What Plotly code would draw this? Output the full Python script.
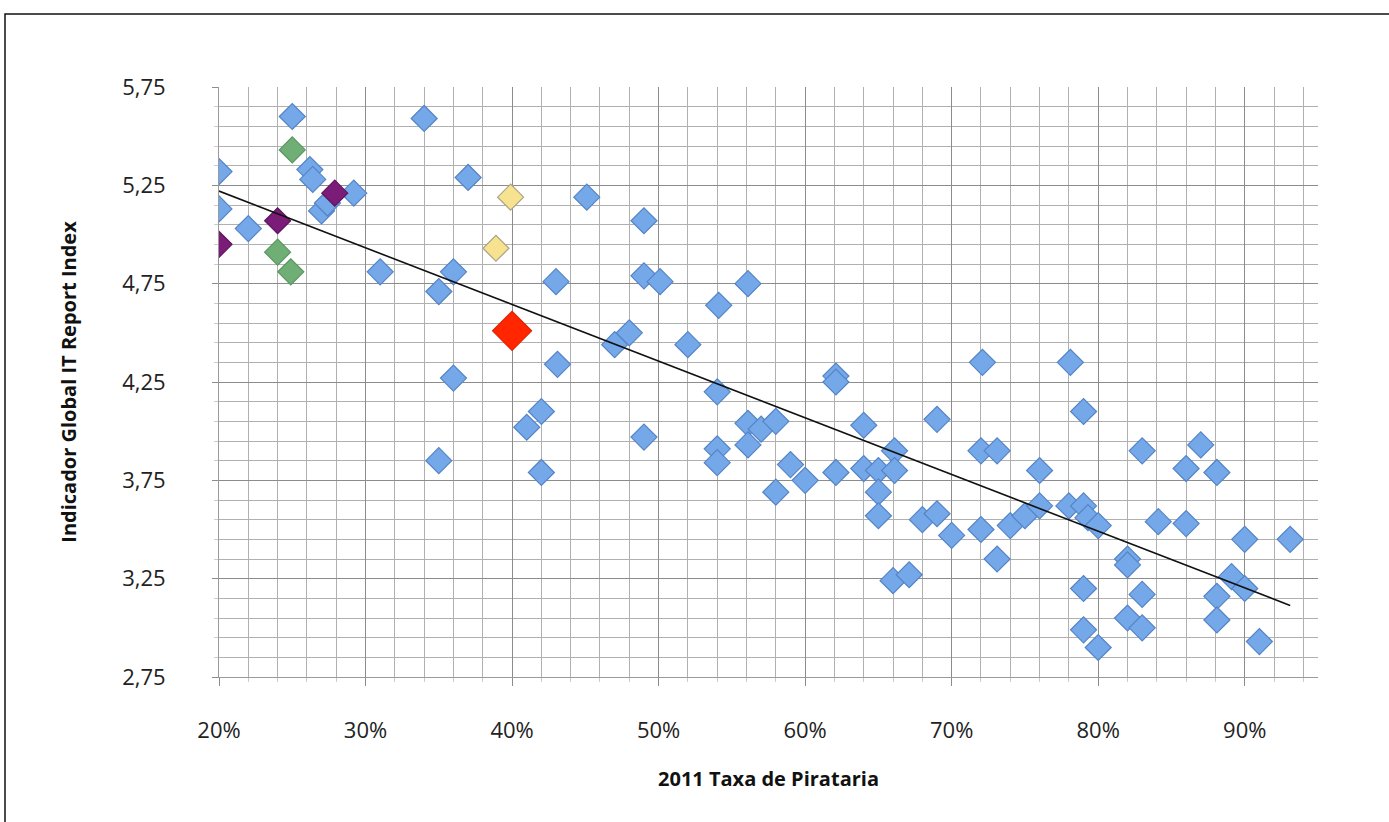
import numpy as np
import plotly.graph_objects as go

# ---- data (x = piracy rate %, y = Global IT Report index) ----
blue_x = [25.0, 34.0, 20.0, 26.2, 26.4, 37.0, 29.2, 45.1, 20.0, 27.0, 27.4, 22.0, 49.0,
          31.0, 36.0, 35.0, 43.0, 49.0, 50.1, 56.1, 54.1, 48.0, 47.0, 52.0, 43.1, 36.0,
          62.1, 62.1, 72.1, 78.1, 54.0, 42.0, 41.0, 35.0, 42.0, 49.0, 54.0, 54.0, 56.1,
          57.0, 58.0, 56.1, 64.0, 69.0, 79.0, 66.1, 59.0, 60.0, 62.1, 64.0, 65.0, 66.1,
          65.0, 58.0, 65.0, 68.0, 69.0, 70.0, 66.0, 67.1, 72.0, 73.1, 76.0, 83.0, 87.0,
          86.0, 88.1, 72.0, 74.0, 75.0, 76.0, 73.1, 78.0, 79.0, 79.3, 80.0, 84.1, 86.0,
          90.0, 93.1, 82.0, 82.0, 79.0, 83.0, 89.1, 90.0, 88.1, 88.1, 82.0, 83.0, 79.0,
          80.0, 91.0]
blue_y = [5.60, 5.59, 5.32, 5.33, 5.28, 5.29, 5.21, 5.19, 5.13, 5.12, 5.16, 5.03, 5.07,
          4.81, 4.81, 4.71, 4.76, 4.79, 4.76, 4.75, 4.64, 4.50, 4.44, 4.44, 4.34, 4.27,
          4.28, 4.25, 4.35, 4.35, 4.20, 4.10, 4.02, 3.85, 3.79, 3.97, 3.91, 3.84, 4.04,
          4.01, 4.05, 3.93, 4.03, 4.06, 4.10, 3.90, 3.83, 3.75, 3.79, 3.81, 3.80, 3.80,
          3.69, 3.69, 3.57, 3.55, 3.58, 3.47, 3.24, 3.27, 3.90, 3.90, 3.80, 3.90, 3.93,
          3.81, 3.79, 3.50, 3.52, 3.57, 3.62, 3.35, 3.62, 3.62, 3.56, 3.52, 3.54, 3.53,
          3.45, 3.45, 3.35, 3.32, 3.20, 3.17, 3.26, 3.20, 3.16, 3.04, 3.05, 3.00, 2.99,
          2.90, 2.93]
green_x = [25.0, 24.0, 24.9]
green_y = [5.43, 4.91, 4.81]
purple_x = [27.9, 24.0, 20.0]
purple_y = [5.21, 5.07, 4.95]
yellow_x = [39.9, 38.9]
yellow_y = [5.19, 4.93]
red_x = [40.0]
red_y = [4.51]

x_title = "2011 Taxa de Pirataria"
y_title = "Indicador Global IT Report Index"

def frac(v):
    return [a / 100.0 for a in v]

fig = go.Figure()

def add(xs, ys, fill, edge, size):
    fig.add_trace(go.Scatter(
        x=frac(xs), y=ys, mode="markers", showlegend=False, hoverinfo="x+y",
        marker=dict(symbol="diamond", size=size, color=fill,
                    line=dict(color=edge, width=1.2))))

add(blue_x, blue_y, "#74a8e8", "#5584c6", 20)
add(green_x, green_y, "#6fae74", "#5a9660", 20)
add(purple_x, purple_y, "#7a1c78", "#5e1460", 20)
add(yellow_x, yellow_y, "#f7e28f", "#a9a487", 20)
add(red_x, red_y, "#ff2600", "#e02000", 30)

# linear trendline through all points
all_x = np.array(frac(blue_x + green_x + purple_x + yellow_x + red_x))
all_y = np.array(blue_y + green_y + purple_y + yellow_y + red_y)
slope, intercept = np.polyfit(all_x, all_y, 1)
tx = np.array([all_x.min(), all_x.max()])
fig.add_trace(go.Scatter(x=tx, y=slope * tx + intercept, mode="lines",
                         line=dict(color="#111111", width=1.6),
                         showlegend=False, hoverinfo="skip"))

L, R, T, B = 219, 71, 87, 145
W, H = 1389, 822
pw, ph = W - L - R, H - T - B

fig.update_layout(
    width=W, height=H,
    margin=dict(l=L, r=R, t=T, b=B),
    paper_bgcolor="white", plot_bgcolor="white",
    separators=",.",
    font=dict(family="Open Sans, Lato, sans-serif", color="#222222"),
    xaxis=dict(
        range=[0.2, 0.95], tick0=0.2, dtick=0.1, tickformat=".0%",
        showgrid=True, gridcolor="#8c8c8c", gridwidth=1,
        minor=dict(dtick=0.02, tick0=0.2, showgrid=True, gridcolor="#b0b0b0", gridwidth=1,
                   ticks="outside", ticklen=4, tickcolor="#cccccc"),
        showline=True, linecolor="#9a9a9a", linewidth=1,
        ticks="outside", ticklen=8, tickcolor="#8c8c8c",
        ticklabelstandoff=26,
        tickfont=dict(size=22, color="#222222"),
        title=dict(text="<b>" + x_title + "</b>", font=dict(size=20, color="#111111"), standoff=28),
        zeroline=False,
    ),
    yaxis=dict(
        range=[2.75, 5.75], tick0=2.75, dtick=0.5, tickformat=".2f",
        showgrid=True, gridcolor="#8c8c8c", gridwidth=1,
        minor=dict(dtick=0.1, tick0=2.75, showgrid=True, gridcolor="#b0b0b0", gridwidth=1,
                   ticks="outside", ticklen=4, tickcolor="#cccccc"),
        showline=True, linecolor="#9a9a9a", linewidth=1,
        ticks="outside", ticklen=6, tickcolor="#8c8c8c",
        ticklabelstandoff=42,
        tickfont=dict(size=22, color="#222222"),
        title=dict(text="<b>" + y_title + "</b>", font=dict(size=20, color="#111111"), standoff=40),
        zeroline=False,
    ),
)

# outer chart frame
x0 = (5 - L) / pw
y0 = (H - B - 14) / ph
fig.add_shape(type="rect", xref="paper", yref="paper",
              x0=x0, y0=-(B + 20) / ph, x1=(W + 20 - L) / pw, y1=y0,
              line=dict(color="#111111", width=1.5), fillcolor="rgba(0,0,0,0)", layer="below")

fig.write_html("out.html", config={"displayModeBar": False},
               post_script="document.body.style.margin='0';document.body.style.overflow='hidden';")
